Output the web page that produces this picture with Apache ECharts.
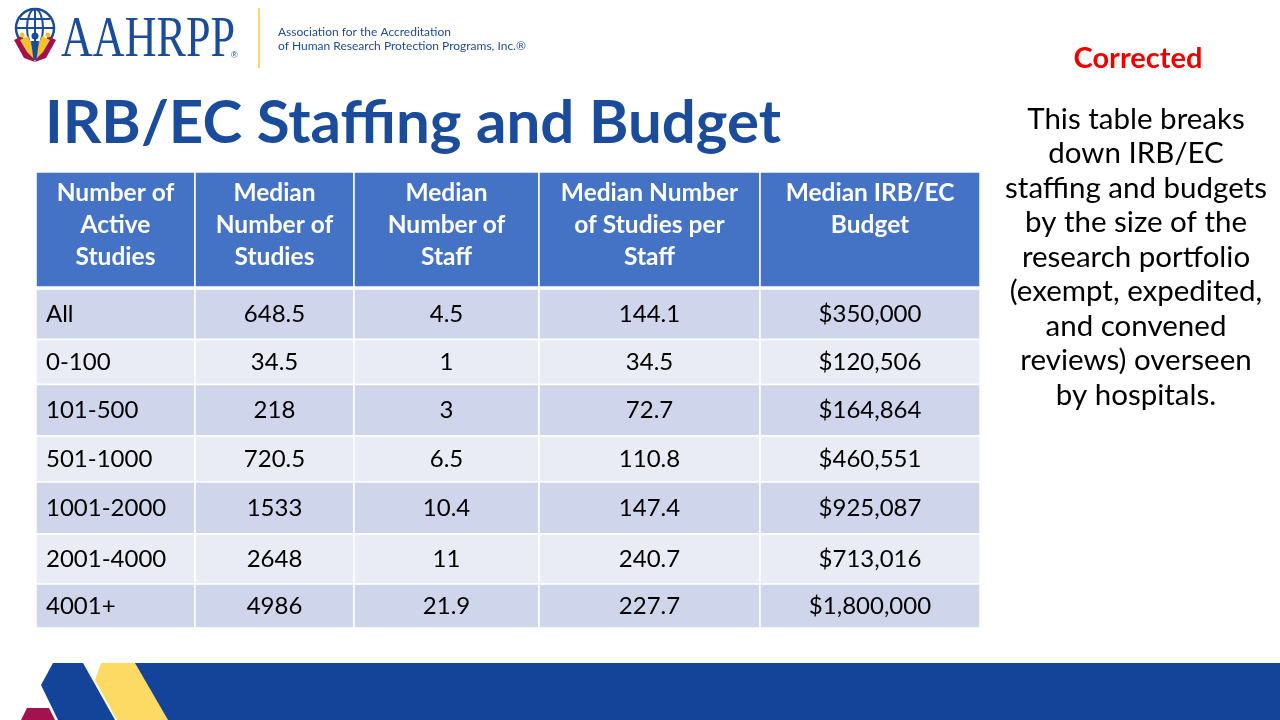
<!DOCTYPE html>
<html>
<head>
<meta charset="utf-8">
<script src="https://cdn.jsdelivr.net/npm/echarts@6/dist/echarts.min.js"></script>
<style>
html,body{margin:0;padding:0;background:#fff;}
#chart{width:1280px;height:720px;}
</style>
</head>
<body>
<div id="chart"></div>
<script>
// ---- data ----
const headers = [
  'Number of\nActive\nStudies',
  'Median\nNumber of\nStudies',
  'Median\nNumber of\nStaff',
  'Median Number\nof Studies per\nStaff',
  'Median IRB/EC\nBudget'
];
const activeStudies = ['All', '0-100', '101-500', '501-1000', '1001-2000', '2001-4000', '4001+'];
const medianStudies = [648.5, 34.5, 218, 720.5, 1533, 2648, 4986];
const medianStaff = [4.5, 1, 3, 6.5, 10.4, 11, 21.9];
const studiesPerStaff = [144.1, 34.5, 72.7, 110.8, 147.4, 240.7, 227.7];
const medianBudget = [350000, 120506, 164864, 460551, 925087, 713016, 1800000];

// ---- layout (sizes, not data) ----
const colWidths = [159, 159, 185, 221, 220];
const rowHeights = [117, 50.5, 45, 51.5, 46, 52, 50, 44]; // header + 7 rows
const colEdges = [0]; colWidths.forEach(w => colEdges.push(colEdges[colEdges.length - 1] + w));
const rowEdges = [0]; rowHeights.forEach(h => rowEdges.push(rowEdges[rowEdges.length - 1] + h));

const FONT = 'Lato, "Open Sans", sans-serif';
const fmtMoney = v => '$' + v.toLocaleString('en-US');

const cells = [];
headers.forEach((h, c) => cells.push({ value: [c, 0], text: h }));
activeStudies.forEach((g, i) => {
  const r = i + 1;
  cells.push({ value: [0, r], text: g });
  cells.push({ value: [1, r], text: String(medianStudies[i]) });
  cells.push({ value: [2, r], text: String(medianStaff[i]) });
  cells.push({ value: [3, r], text: String(studiesPerStaff[i]) });
  cells.push({ value: [4, r], text: fmtMoney(medianBudget[i]) });
});

const chart = echarts.init(document.getElementById('chart'));

const option = {
  backgroundColor: '#ffffff',
  animation: false,
  grid: { left: 36, top: 172, width: colEdges[colEdges.length - 1], height: rowEdges[rowEdges.length - 1] },
  xAxis: { type: 'value', min: 0, max: colEdges[colEdges.length - 1], show: false },
  yAxis: { type: 'value', min: 0, max: rowEdges[rowEdges.length - 1], inverse: true, show: false },
  series: [{
    type: 'custom',
    coordinateSystem: 'cartesian2d',
    data: cells,
    renderItem: function (params, api) {
      const c = api.value(0), r = api.value(1);
      const item = cells[params.dataIndex];
      const p0 = api.coord([colEdges[c], rowEdges[r]]);
      const p1 = api.coord([colEdges[c + 1], rowEdges[r + 1]]);
      const isHeader = r === 0;
      const fill = isHeader ? '#4472C4' : (r % 2 === 1 ? '#CFD5EA' : '#E9EBF5');
      const x = p0[0], y = p0[1];
      const w = p1[0] - p0[0];
      const h = (p1[1] - p0[1]) - (isHeader ? 2 : 0);
      const children = [{
        type: 'rect',
        shape: { x: x, y: y, width: w, height: h },
        style: { fill: fill, stroke: '#ffffff', lineWidth: 1.5 }
      }];
      if (isHeader) {
        children.push({
          type: 'text',
          style: {
            text: item.text, x: x + w / 2, y: y + 5,
            align: 'center', verticalAlign: 'top',
            fill: '#ffffff', font: 'bold 24.5px ' + FONT, lineHeight: 32
          }
        });
      } else {
        children.push({
          type: 'text',
          style: {
            text: item.text, x: c === 0 ? x + 10 : x + w / 2, y: y + h / 2,
            align: c === 0 ? 'left' : 'center', verticalAlign: 'middle',
            fill: '#000000', font: '24px ' + FONT
          }
        });
      }
      return { type: 'group', children: children };
    }
  }],
  graphic: [
    // logo globe
    { type: 'circle', shape: { cx: 35, cy: 28, r: 19 }, style: { fill: 'none', stroke: '#1B4B9B', lineWidth: 2.5 } },
    { type: 'ellipse', shape: { cx: 35, cy: 28, rx: 8, ry: 19 }, style: { fill: 'none', stroke: '#1B4B9B', lineWidth: 2 } },
    { type: 'line', shape: { x1: 16, y1: 28, x2: 54, y2: 28 }, style: { stroke: '#1B4B9B', lineWidth: 2 } },
    { type: 'line', shape: { x1: 20, y1: 19, x2: 50, y2: 19 }, style: { stroke: '#1B4B9B', lineWidth: 2 } },
    { type: 'line', shape: { x1: 35, y1: 9, x2: 35, y2: 47 }, style: { stroke: '#1B4B9B', lineWidth: 2 } },
    { type: 'polygon', shape: { points: [[14, 40], [22, 36], [30, 50], [35, 62], [24, 58]] }, style: { fill: '#A3114F' } },
    { type: 'polygon', shape: { points: [[56, 40], [48, 36], [40, 50], [35, 62], [46, 58]] }, style: { fill: '#A3114F' } },
    { type: 'polygon', shape: { points: [[20, 40], [28, 36], [33, 48], [35, 60], [27, 52]] }, style: { fill: '#F2C230' } },
    { type: 'polygon', shape: { points: [[50, 40], [42, 36], [37, 48], [35, 60], [43, 52]] }, style: { fill: '#F2C230' } },
    { type: 'circle', shape: { cx: 35, cy: 36, r: 3.5 }, style: { fill: '#1B4B9B' } },
    { type: 'polygon', shape: { points: [[31, 41], [39, 41], [36.5, 60], [33.5, 60]] }, style: { fill: '#1B4B9B' } },
    { type: 'circle', shape: { cx: 22, cy: 35, r: 2.5 }, style: { fill: '#F2C230' } },
    { type: 'circle', shape: { cx: 48, cy: 35, r: 2.5 }, style: { fill: '#F2C230' } },
    // logo wordmark
    { type: 'text', x: 61, y: 41, scaleX: 0.76, style: { text: 'AAHRPP', x: 0, y: 0, verticalAlign: 'middle', fill: '#1B4B9B', font: '58px "Liberation Serif", "DejaVu Serif", serif' } },
    { type: 'text', style: { text: '®', x: 231, y: 56, verticalAlign: 'middle', fill: '#1B4B9B', font: '9px "Liberation Sans", sans-serif' } },
    { type: 'rect', shape: { x: 258, y: 8, width: 2, height: 60 }, style: { fill: '#F7D862' } },
    { type: 'text', style: { text: 'Association for the Accreditation', x: 278, y: 32, verticalAlign: 'middle', fill: '#1B4B9B', font: '12px ' + FONT } },
    { type: 'text', style: { text: 'of Human Research Protection Programs, Inc.®', x: 278, y: 46, verticalAlign: 'middle', fill: '#1B4B9B', font: '12px ' + FONT } },
    // title
    { type: 'text', style: { text: 'IRB/EC Staffing and Budget', x: 45, y: 124, verticalAlign: 'middle', fill: '#1B4B9B', font: 'bold 60px ' + FONT } },
    // right notes
    { type: 'text', style: { text: 'Corrected', x: 1138, y: 59, align: 'center', verticalAlign: 'middle', fill: '#EE0000', font: 'bold 29px ' + FONT } },
    { type: 'text', style: {
        text: 'This table breaks\ndown IRB/EC\nstaffing and budgets\nby the size of the\nresearch portfolio\n(exempt, expedited,\nand convened\nreviews) overseen\nby hospitals.',
        x: 1136, y: 102, align: 'center', verticalAlign: 'top', lineHeight: 34.5,
        fill: '#000000', font: '29.5px ' + FONT } },
    // bottom band
    { type: 'polygon', shape: { points: [[125, 663], [1280, 663], [1280, 720], [150, 720]] }, style: { fill: '#13449A' } },
    { type: 'polygon', shape: { points: [[101, 663], [135, 663], [168, 720], [117, 720], [95, 680]] }, style: { fill: '#FDDA64' } },
    { type: 'polygon', shape: { points: [[53, 663], [83, 663], [115, 720], [58, 720], [41, 685]] }, style: { fill: '#13449A' } },
    { type: 'polygon', shape: { points: [[27, 708], [49, 708], [55, 720], [21, 720]] }, style: { fill: '#A3114F' } }
  ]
};
chart.setOption(option);
</script>
</body>
</html>
